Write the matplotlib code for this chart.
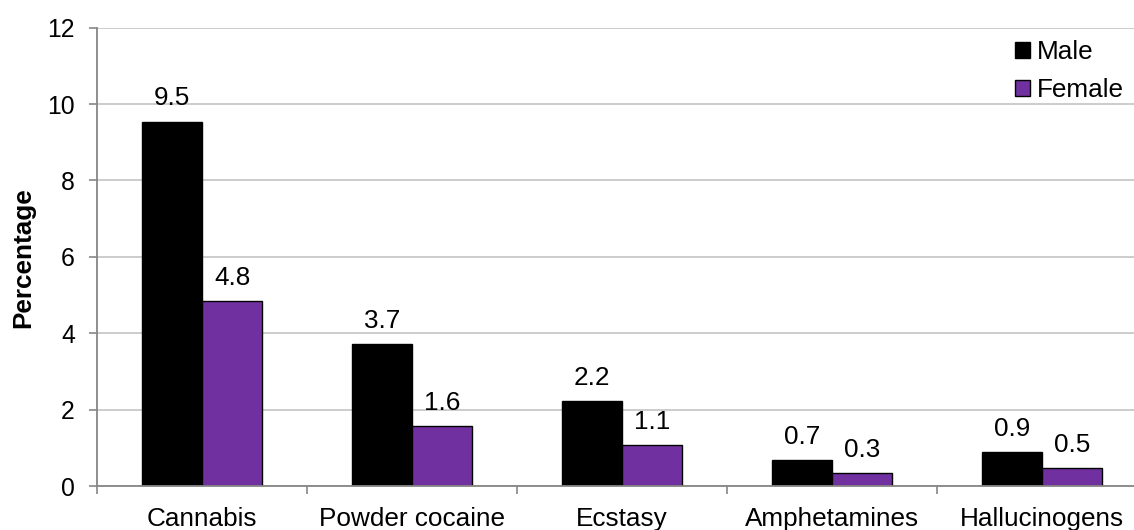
import matplotlib
matplotlib.use("Agg")
import matplotlib.pyplot as plt
import numpy as np
from matplotlib.ticker import FixedLocator

categories = ["Cannabis", "Powder cocaine", "Ecstasy", "Amphetamines", "Hallucinogens"]
male = [9.54, 3.72, 2.22, 0.69, 0.88]
female = [4.84, 1.56, 1.08, 0.34, 0.46]
series_names = ["Male", "Female"]
colors = ["#000000", "#7030A0"]
yticks = [0, 2, 4, 6, 8, 10, 12]

plt.rcParams['font.family'] = ['Liberation Sans', 'DejaVu Sans']
FS = 18.8
FS_Y = 17.8

W, H = 1134, 530
fig = plt.figure(figsize=(W / 100, H / 100), dpi=100)
left_px, right_px = 97, 1147
bottom_px, top_px = 486, 27.6
ax = fig.add_axes([left_px / W, 1 - bottom_px / H, (right_px - left_px) / W, (bottom_px - top_px) / H])

x = np.arange(len(categories))
bw = 0.288
b1 = ax.bar(x - bw / 2, male, bw, color=colors[0], edgecolor="black", linewidth=1.0, label=series_names[0], zorder=3)
b2 = ax.bar(x + bw / 2, female, bw, color=colors[1], edgecolor="black", linewidth=1.0, label=series_names[1], zorder=3)

for bars, vals in ((b1, male), (b2, female)):
    for rect, v in zip(bars, vals):
        ax.annotate(f"{v:.1f}", (rect.get_x() + rect.get_width() / 2, rect.get_height()),
                    xytext=(0, 8), textcoords="offset points", ha="center", va="bottom",
                    fontsize=FS, color="black")

ax.set_xlim(-0.5, len(categories) - 0.5)
ax.set_ylim(0, 12)
ax.set_yticks(yticks)
ax.set_yticklabels([str(t) for t in yticks], fontsize=FS_Y)
ax.set_xticks(x)
ax.set_xticklabels(categories, fontsize=FS)
ax.xaxis.set_minor_locator(FixedLocator(np.arange(-0.5, len(categories) + 0.5, 1.0)))
ax.tick_params(axis='x', which='major', length=0, pad=15)
ax.tick_params(axis='x', which='minor', length=6, width=1.2, color="#868686", direction='out')
ax.tick_params(axis='y', length=6, width=1.2, color="#868686", direction='out', pad=10)

ax.grid(axis='y', color="#C8C8C8", linewidth=1.3, zorder=0)
ax.set_axisbelow(True)
for s in ("top", "right"):
    ax.spines[s].set_visible(False)
for s in ("left", "bottom"):
    ax.spines[s].set_color("#868686")
    ax.spines[s].set_linewidth(1.3)
ax.spines["bottom"].set_zorder(4)

fig.text(23 / W, 1 - 258 / H, "Percentage", rotation=90, ha="center", va="center",
         fontsize=FS, fontweight="bold")

leg = ax.legend(loc="upper left", bbox_to_anchor=(1015 / W, 1 - 40 / H), bbox_transform=fig.transFigure,
                frameon=False, fontsize=FS, handlelength=0.58, handleheight=0.58,
                handletextpad=0.25, labelspacing=0.55, borderpad=0, borderaxespad=0)

fig.savefig("out.png", dpi=100)
